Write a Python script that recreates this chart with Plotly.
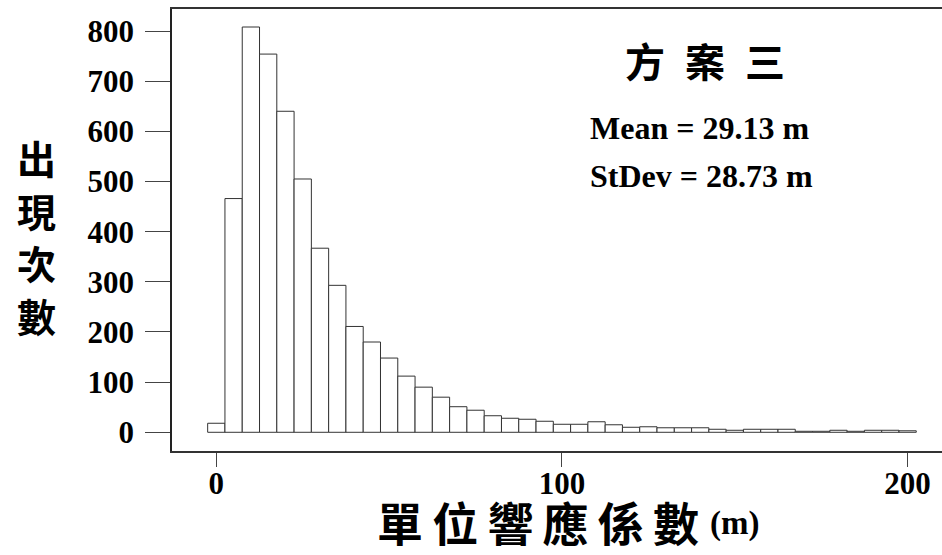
import plotly.graph_objects as go

# Histogram of unit response coefficients (bin width 5 m, bins centred on multiples of 5)
bin_centers = list(range(0, 205, 5))
counts = [18, 466, 808, 754, 640, 505, 367, 293, 211, 180,
          148, 112, 90, 70, 51, 44, 33, 28, 26, 22,
          16, 16, 21, 15, 10, 11, 9, 9, 9, 6,
          4, 6, 6, 6, 2, 2, 4, 2, 4, 4, 3]
bin_width = 5

x_ticks = [0, 100, 200]
y_ticks = list(range(0, 900, 100))

title_text = "方\u2002案\u2002三"
mean_text = "Mean = 29.13 m"
stdev_text = "StDev = 28.73 m"
x_title = "\u2009".join("單位響應係數")
x_unit = "(m)"
y_title_chars = ["出", "現", "次", "數"]

SERIF = "Liberation Serif, Times New Roman, serif"
CJK = "Noto Sans CJK TC, Noto Sans CJK SC, sans-serif"

fig = go.Figure(
    go.Bar(
        x=bin_centers,
        y=counts,
        width=bin_width,
        marker=dict(color="white", line=dict(color="#333333", width=1)),
        hoverinfo="x+y",
    )
)

fig.update_layout(
    width=942,
    height=555,
    margin=dict(l=172, r=0, t=9, b=104),
    paper_bgcolor="white",
    plot_bgcolor="white",
    showlegend=False,
    xaxis=dict(
        range=[-12.82, 209.95],
        tickvals=x_ticks,
        ticks="",
        # tick marks drawn as minor ticks so the labels sit close to the axis
        minor=dict(tickvals=x_ticks, ticks="outside", ticklen=14,
                   tickwidth=1, tickcolor="#444444", showgrid=False),
        showline=True,
        linecolor="#333333",
        linewidth=1.5,
        mirror=True,
        showgrid=False,
        zeroline=False,
        ticklabelstandoff=4,
        tickfont=dict(family=SERIF, size=31, color="black", weight="bold"),
    ),
    yaxis=dict(
        range=[-37.3, 843.9],
        tickvals=y_ticks,
        ticks="outside",
        ticklen=25,
        tickwidth=1,
        tickcolor="#444444",
        showline=True,
        linecolor="#222222",
        linewidth=1.5,
        showgrid=False,
        zeroline=False,
        ticklabelstandoff=5,
        tickfont=dict(family=SERIF, size=31, color="black", weight="bold"),
    ),
)

annotations = [
    dict(text=title_text, x=705, y=60,
         font=dict(family=CJK, size=40, color="black", weight="bold")),
    dict(text=mean_text, x=699, y=128,
         font=dict(family=SERIF, size=32, color="black", weight="bold")),
    dict(text=stdev_text, x=701, y=176,
         font=dict(family=SERIF, size=32, color="black", weight="bold")),
    dict(text=x_title, x=538, y=521,
         font=dict(family=CJK, size=46, color="black", weight="bold")),
    dict(text=x_unit, x=734, y=523,
         font=dict(family=SERIF, size=33, color="black", weight="bold")),
]
# vertical y-axis title, one character per line
for i, ch in enumerate(y_title_chars):
    annotations.append(
        dict(text=ch, x=36, y=157 + i * 52.7,
             font=dict(family=CJK, size=39, color="black", weight="bold"))
    )

for a in annotations:
    fig.add_annotation(
        xref="paper", yref="paper",
        x=(a["x"] - 172) / 770, y=(555 - a["y"] - 104) / 442,
        text=a["text"], showarrow=False,
        xanchor="center", yanchor="middle",
        font=a["font"],
    )

fig.write_html("out.html")
